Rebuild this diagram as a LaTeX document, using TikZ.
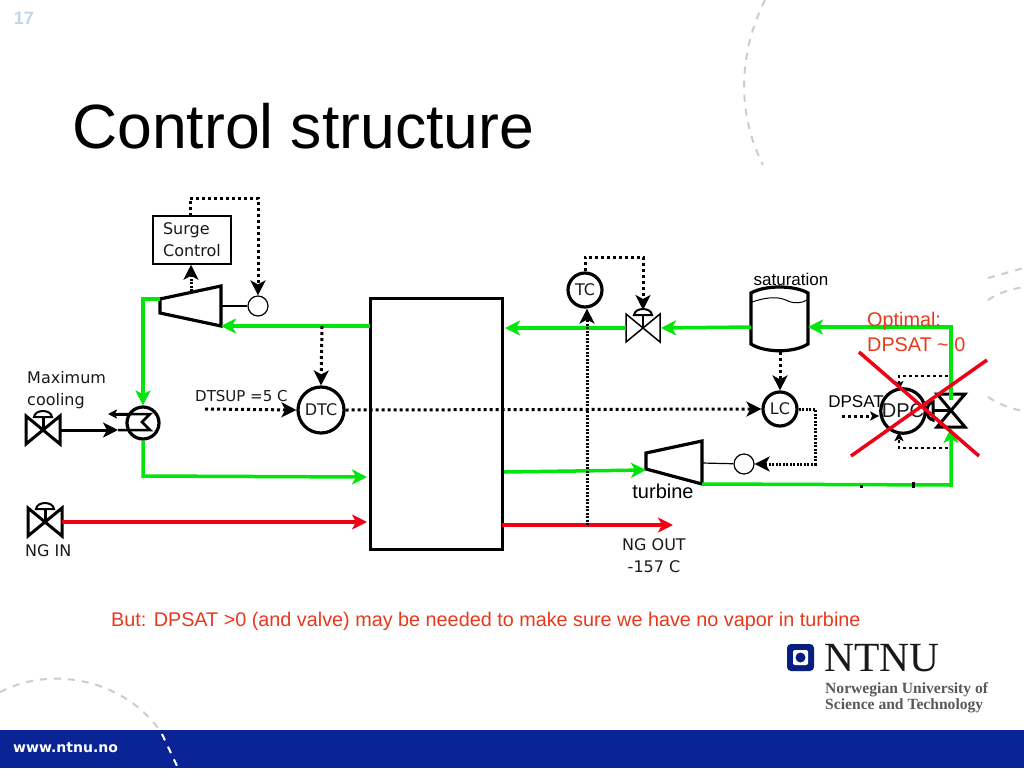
\documentclass[tikz,border=0pt]{standalone}
\usepackage{fontspec}
\setmainfont{Liberation Sans}
\newfontfamily\dejavu{DejaVu Sans}
\newfontfamily\serifnt{Liberation Serif}
\usetikzlibrary{arrows.meta,positioning}

\definecolor{flowgreen}{RGB}{0,230,10}
\definecolor{flowred}{RGB}{240,0,20}
\definecolor{notered}{RGB}{232,56,28}
\definecolor{ntnublue}{RGB}{10,36,150}
\definecolor{pageblue}{RGB}{190,215,235}

\tikzset{
  tip/.style = {-{Stealth[length=15pt,width=15pt,inset=4pt]}},
  smalltip/.style = {-{Stealth[length=9pt,width=9pt,inset=2pt]}},
  green line/.style = {draw=flowgreen, line width=3.5pt},
  red line/.style = {draw=flowred, line width=3.5pt},
  signal/.style = {draw=black, line width=3pt, dash pattern=on 3pt off 3pt},
  fine signal/.style = {draw=black, line width=3pt, dash pattern=on 2pt off 1.5pt},
  thin signal/.style = {draw=black, line width=2.5pt, dash pattern=on 3pt off 3pt},
  ctrl/.style = {circle, draw, line width=3.2pt, inner sep=0, fill=white, text=black!90,
                 font=\dejavu\fontsize{16}{19}\selectfont},
  sensor/.style = {circle, draw, line width=1.2pt, inner sep=0, minimum size=20pt, fill=white},
  label/.style = {inner sep=0, text=black!90, align=left, font=\dejavu\fontsize{16}{22}\selectfont},
  arial/.style = {inner sep=0, font=\fontsize{17}{19}\selectfont},
  note/.style = {inner sep=0, text=notered, align=left, font=\fontsize{19.8}{25}\selectfont},
  deco/.style = {draw=black!20, line width=2pt, dash pattern=on 7pt off 7pt},
}

% bow tie valve with its actuator on top
\newcommand{\ValveUp}[2]{%
  \draw[#2] (#1) ++(-17,-14) -- ++(34,28) -- ++(0,-28) -- ++(-34,28) -- cycle;
  \draw[#2] (#1) -- ++(0,-13);
  \draw[line width=2pt] (#1) ++(-9,-13) .. controls +(1,-8) and +(-1,-8) .. ++(18,0) -- cycle;
}

\begin{document}
\begin{tikzpicture}[x=1pt, y=-1pt, line join=miter]
\useasboundingbox (0,0) rectangle (1024,768);

% background of the slide
\fill[ntnublue] (0,730) rectangle (1024,768);
\draw[deco] (765,0) .. controls (735,60) and (740,120) .. (763,165);
\draw[deco] (988,278) -- (1024,268);
\draw[deco] (988,300) .. controls (1000,292) and (1012,289) .. (1024,287);
\draw[deco] (988,397) .. controls (1000,405) and (1012,409) .. (1024,411);
\draw[deco] (0,692) .. controls (50,666) and (120,678) .. (158,728);
\draw[white, line width=2pt, dash pattern=on 7pt off 7pt] (162,734) -- (178,768);

\node[inner sep=0, text=pageblue, font=\bfseries\fontsize{18}{20}\selectfont] (page) at (24,18) {17};
\node[inner sep=0, anchor=west, font=\fontsize{62.5}{70}\selectfont] (title) at (72,126) {Control structure};

% main block and controllers
\node[draw, line width=3pt, minimum width=132pt, minimum height=251pt, inner sep=0] (block) at (436,423.5) {};
\node[draw, line width=1.5pt, minimum width=78pt, minimum height=48pt, inner sep=0, text=black!90,
      align=left, font=\dejavu\fontsize{16}{22}\selectfont] (surge) at (192,240) {Surge\\Control};
\node[ctrl, minimum size=46pt] (dtc) at (321,410) {DTC};
\node[ctrl, minimum size=34pt] (tc) at (585,290) {TC};
\node[ctrl, minimum size=34pt] (lc) at (780,409) {LC};
\node[ctrl, minimum size=42pt, fill=none] (dpc) at (903,411) {\fontsize{20}{24}\selectfont\rmfamily DPC};
\node[sensor] (sens1) at (258,306) {};
\node[sensor] (sens2) at (744,464) {};
\node[circle, draw, line width=3.2pt, minimum size=32pt, inner sep=0] (hx) at (143,423) {};

% compressor
\coordinate (compin) at (160,299);
\coordinate (compout) at (221,326);
\coordinate (comptop) at (191,291);
\coordinate (compshaft) at (221,306);
\draw[line width=3.2pt] (160,299) -- (221,286) -- (221,326) -- (160,313) -- cycle;
\draw[line width=1.2pt] (compshaft) -- (sens1);

% turbine
\coordinate (turbin) at (646,470);
\coordinate (turbout) at (702,484);
\coordinate (turbshaft) at (702,463);
\draw[line width=3.2pt] (646,453) -- (702,441) -- (702,484) -- (646,469) -- cycle;
\draw[line width=1.2pt] (turbshaft) -- (sens2);

% tank
\coordinate (tankin) at (808,327);
\coordinate (tankout) at (751,327);
\coordinate (tankbot) at (780,352);
\draw[line width=3.2pt] (751,293) .. controls (765,285) and (794,285) .. (808,293) -- (808,344)
  .. controls (794,353) and (765,353) .. (751,344) -- cycle;
\draw[line width=1pt] (752,302) .. controls (770,296) and (780,297) .. (788,301) .. controls (795,304) and (802,303) .. (807,300);

% valves
\coordinate (cwvalve) at (43,430);
\coordinate (ngvalve) at (45,522);
\coordinate (tcvalve) at (643,328);
\coordinate (dpvalve) at (951,410);
\ValveUp{cwvalve}{line width=3pt}
\ValveUp{ngvalve}{line width=3pt}
\ValveUp{tcvalve}{line width=1.5pt}
\draw[line width=3pt] (937,394) -- (965,394) -- (937,427) -- (965,427) -- cycle;
\draw[line width=3pt] (dpvalve) -- ++(-18,0);
\draw[line width=3pt] (933,402) .. controls (925,403) and (925,419) .. (933,420) -- cycle;

% heat exchanger
\coordinate (cwin) at (118,430);
\coordinate (cwout) at (130,414);
\coordinate (cwend) at (108,414);
\draw[line width=2.5pt] (118,414) -- (150,414) -- (142,422) -- (150,430) -- (cwin);
\draw[line width=3pt, smalltip] (cwout) -- (cwend);
\draw[line width=3pt, tip] (61,430) -- (cwin);

% process flows
\coordinate (blockcomp) at (370,326);
\coordinate (blockhx) at (367,477);
\coordinate (blockng) at (367,522);
\coordinate (blocktc) at (505,328);
\coordinate (blockturb) at (504,472);
\coordinate (blockout) at (502,525);
\coordinate (ngend) at (673,525);
\draw[green line, tip] (blockcomp) -- (compout);
\draw[green line, tip] (compin) -- (143,299) -- (hx.north);
\draw[green line, tip] (hx.south) -- (143,476) -- (blockhx);
\draw[red line, tip] (62,522) -- (blockng);
\draw[red line, tip] (blockout) -- (ngend);
\draw[green line, tip] (tcvalve) ++(-17,0) -- (blocktc);
\draw[green line, tip] (tankout) -- (661,328);
\draw[green line, tip] (951,400) -- (951,327) -- (tankin);
\draw[green line, tip] (turbout) -- (951,485) -- (951,428);
\draw[green line, tip] (blockturb) -- (turbin);

% control signals
\coordinate (dtcfrom) at (322,326);
\coordinate (tcfrom) at (587,525);
\coordinate (dtcset) at (205,409);
\coordinate (dpcset) at (842,416);
\draw[signal, tip] (190,216) -- (190,198) -- (258,198) -- (sens1.north);
\draw[fine signal, tip] (comptop) -- (surge.south -| comptop);
\draw[signal, tip] (dtcfrom) -- (dtc.north);
\draw[signal, tip] (dtcset) -- (dtc.west);
\draw[signal, tip] (dtc.east) -- (lc.west);
\draw[fine signal, tip] (tcfrom) -- (tcfrom |- tc.south);
\draw[signal, tip] (tc.north) -- (585,257) -- (643,257) -- (643,310);
\draw[signal, tip] (tankbot) -- (lc.north);
\draw[fine signal, tip] (lc.east) -- (815,409) -- (815,464) -- (sens2.east);
\draw[signal, smalltip] (dpcset) -- (dpcset -| dpc.west);
\draw[thin signal, smalltip] (948,376) -- (899,376) -- (899,390);
\draw[thin signal, smalltip] (948,448) -- (899,448) -- (899,432);
\node[fill, inner sep=0, minimum size=3pt] (dot1) at (861,486) {};
\node[fill, inner sep=0, minimum width=3pt, minimum height=6pt] (dot2) at (913,485) {};

% labels
\node[label, anchor=west] (maxcool) at (27,390) {Maximum\\cooling};
\node[label, anchor=west] (ngin) at (25,551) {NG IN};
\node[label, align=center] (ngout) at (654,556) {NG OUT\\-157 C};
\node[label, anchor=west, font=\dejavu\fontsize{15}{18}\selectfont] (dtsup) at (195,396) {DTSUP =5 C};
\node[arial] (saturation) at (791,279) {saturation};
\node[arial, font=\fontsize{20}{22}\selectfont] (turbine) at (663,491) {turbine};
\node[arial] (dpsat) at (856,402) {DPSAT};
\node[note, anchor=west] (optimal) at (867,332) {Optimal:\\DPSAT \char126\ 0};
\node[note, anchor=west] (remark) at (111,621) {But: DPSAT >0 (and valve) may be needed to make sure we have no vapor in turbine};

% crossed out
\coordinate (xa) at (859,352);
\coordinate (xb) at (979,456);
\coordinate (xc) at (851,456);
\coordinate (xd) at (987,360);
\draw[red line] (xa) -- (xb);
\draw[red line] (xc) -- (xd);

% logo and footer
\node[fill=ntnublue!85!black, rounded corners=4pt, minimum size=27pt, inner sep=0] (logo) at (800.5,657.5) {};
\node[fill=white, rounded corners=2pt, minimum size=15pt, inner sep=0] (logoin) at (logo) {};
\node[circle, fill=ntnublue!85!black, minimum size=10pt, inner sep=0] (logodot) at (logo) {};
\node[inner sep=0, anchor=west, text=black!90, font=\serifnt\fontsize{41.5}{42}\selectfont] (ntnu) at (824,658) {NTNU};
\node[inner sep=0, anchor=north west, align=left, text=black!65, font=\serifnt\bfseries\fontsize{15.6}{16}\selectfont] (univ) at (825,682)
  {Norwegian University of\\Science and Technology};
\node[inner sep=0, anchor=west, text=white, font=\dejavu\bfseries\fontsize{14}{16}\selectfont] (web) at (13,748) {www.ntnu.no};
\end{tikzpicture}
\end{document}
